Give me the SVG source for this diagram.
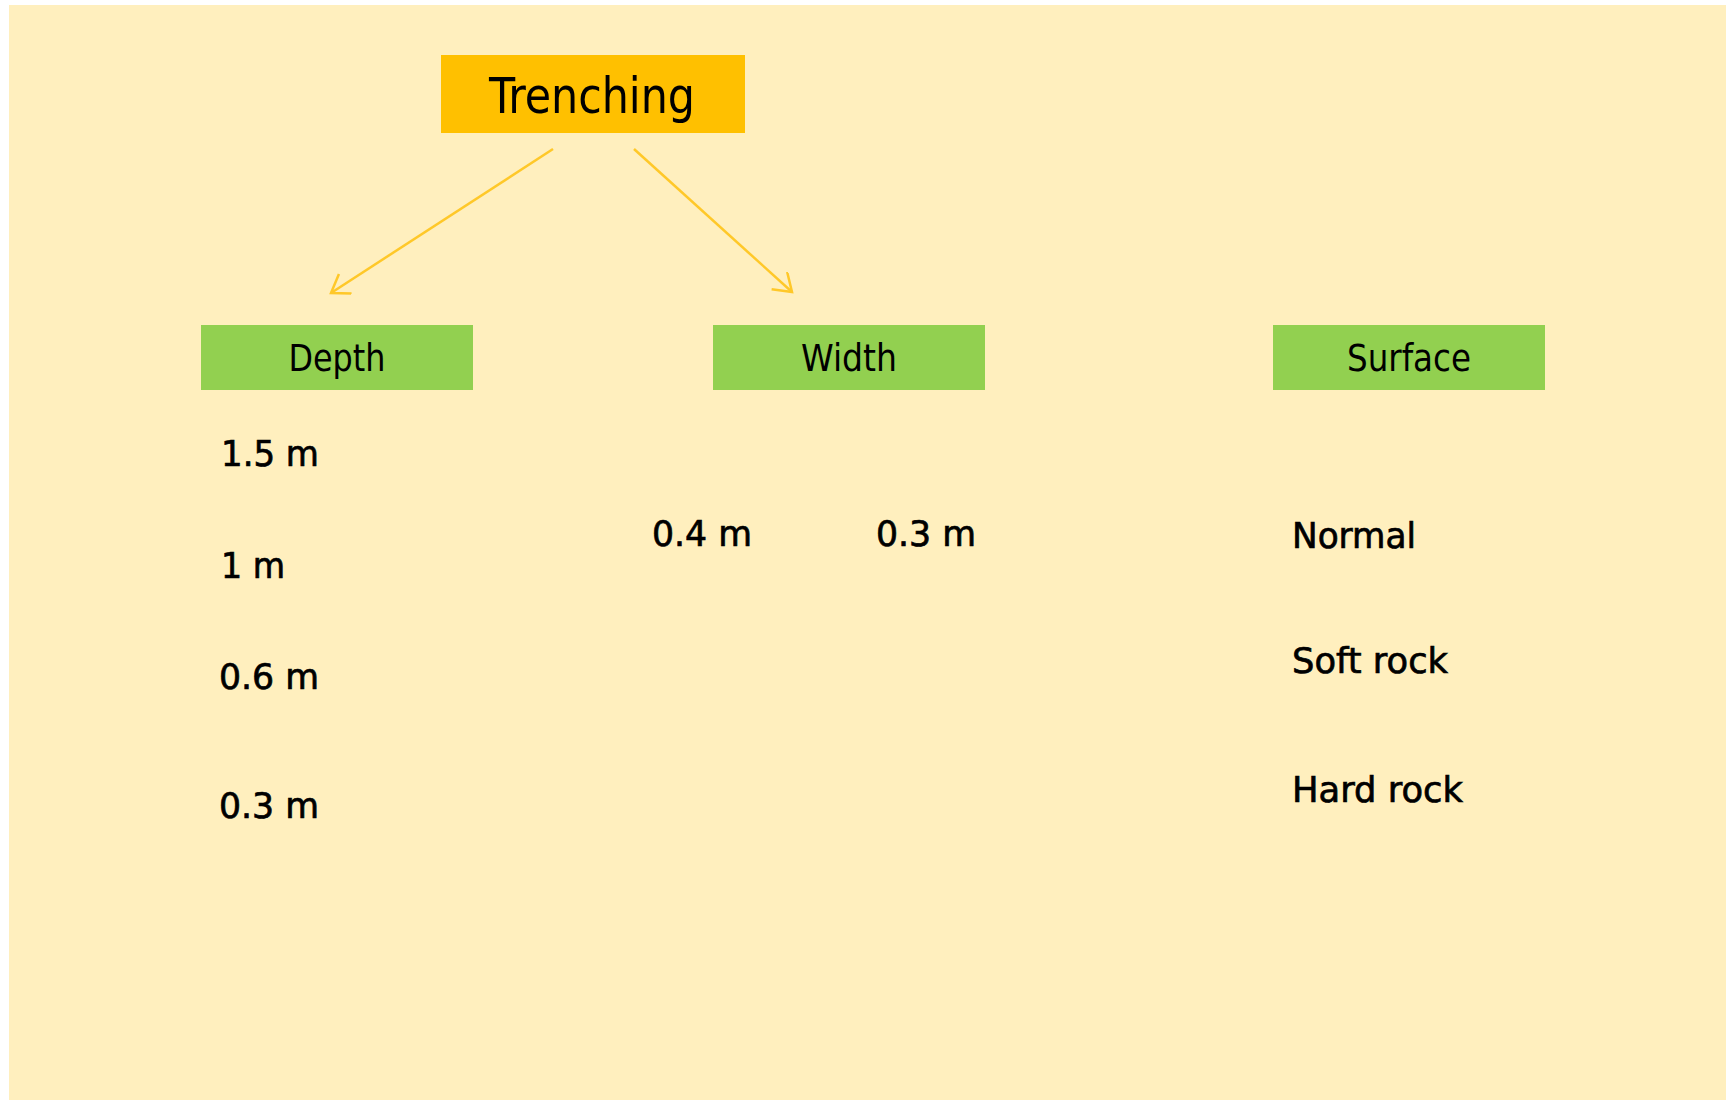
<svg xmlns="http://www.w3.org/2000/svg" width="1726" height="1103" viewBox="0 0 1726 1103">
<style>
.hd{font-family:"DejaVu Sans Condensed","DejaVu Sans",sans-serif;fill:#000;text-anchor:middle}
.val{font-family:"DejaVu Sans",sans-serif;font-size:35px;fill:#000;stroke:#000;stroke-width:0.7}
.conn{stroke:#FFC829;stroke-width:2.5;fill:none}
</style>
<defs>
<marker id="ah" markerUnits="userSpaceOnUse" markerWidth="26" markerHeight="26" viewBox="0 0 26 26" refX="20" refY="12" orient="auto">
<path d="M3,0.4 L20,12 L3,23.6" fill="none" stroke="#FFC829" stroke-width="2.5"/>
</marker>
</defs>
<rect x="0" y="0" width="1726" height="1103" fill="#ffffff"/>
<rect x="9" y="5" width="1717" height="1095" fill="#FFEFBE"/>
<g id="connectors">
<line class="conn" x1="553" y1="149" x2="331" y2="293" marker-end="url(#ah)"/>
<line class="conn" x1="634" y1="149" x2="792" y2="292" marker-end="url(#ah)"/>
</g>
<g id="trenching">
<rect x="441" y="55" width="304" height="78" fill="#FFC000"/>
<text class="hd" x="592" y="113" font-size="49" textLength="206" lengthAdjust="spacingAndGlyphs">Trenching</text>
</g>
<g id="depth">
<rect x="201" y="325" width="272" height="65" fill="#92D050"/>
<text class="hd" x="337" y="371" font-size="37" textLength="97" lengthAdjust="spacingAndGlyphs">Depth</text>
</g>
<g id="width">
<rect x="713" y="325" width="272" height="65" fill="#92D050"/>
<text class="hd" x="849" y="371" font-size="37" textLength="96" lengthAdjust="spacingAndGlyphs">Width</text>
</g>
<g id="surface">
<rect x="1273" y="325" width="272" height="65" fill="#92D050"/>
<text class="hd" x="1409" y="371" font-size="37" textLength="124" lengthAdjust="spacingAndGlyphs">Surface</text>
</g>
<g id="depth-values">
<text class="val" x="221" y="466" textLength="98" lengthAdjust="spacingAndGlyphs">1.5 m</text>
<text class="val" x="221" y="578" textLength="64" lengthAdjust="spacingAndGlyphs">1 m</text>
<text class="val" x="219" y="689" textLength="100" lengthAdjust="spacingAndGlyphs">0.6 m</text>
<text class="val" x="219" y="818" textLength="100" lengthAdjust="spacingAndGlyphs">0.3 m</text>
</g>
<g id="width-values">
<text class="val" x="652" y="546" textLength="100" lengthAdjust="spacingAndGlyphs">0.4 m</text>
<text class="val" x="876" y="546" textLength="100" lengthAdjust="spacingAndGlyphs">0.3 m</text>
</g>
<g id="surface-values">
<text class="val" x="1292" y="548" textLength="124" lengthAdjust="spacingAndGlyphs">Normal</text>
<text class="val" x="1292" y="673" textLength="156" lengthAdjust="spacingAndGlyphs">Soft rock</text>
<text class="val" x="1292" y="802" textLength="171" lengthAdjust="spacingAndGlyphs">Hard rock</text>
</g>
</svg>
